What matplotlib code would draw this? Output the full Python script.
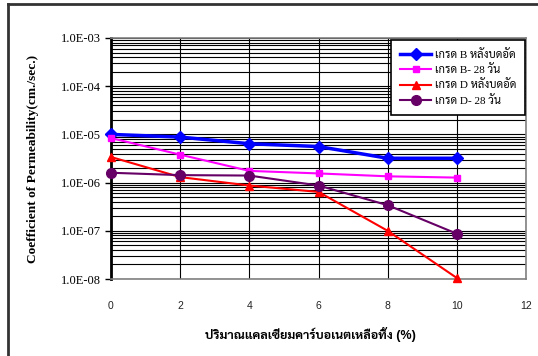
import matplotlib
matplotlib.use("Agg")
import matplotlib.pyplot as plt
from matplotlib.ticker import LogLocator, FixedLocator, NullFormatter
from matplotlib.lines import Line2D
import numpy as np

# ---- data ----
x_vals = [0, 2, 4, 6, 8, 10]
b_compacted = [1.0e-5, 8.8e-6, 6.4e-6, 5.6e-6, 3.2e-6, 3.2e-6]
b_28days = [8.4e-6, 3.8e-6, 1.75e-6, 1.55e-6, 1.35e-6, 1.27e-6]
d_compacted = [3.4e-6, 1.3e-6, 8.7e-7, 6.4e-7, 1.0e-7, 1.05e-8]
d_28days = [1.6e-6, 1.43e-6, 1.4e-6, 8.7e-7, 3.4e-7, 8.7e-8]
series_labels = ["เกรด B หลังบดอัด", "เกรด B- 28 วัน", "เกรด D หลังบดอัด", "เกรด D- 28 วัน"]
x_ticks = [0, 2, 4, 6, 8, 10, 12]
y_ticks = [1e-8, 1e-7, 1e-6, 1e-5, 1e-4, 1e-3]
y_tick_labels = ["1.0E-08", "1.0E-07", "1.0E-06", "1.0E-05", "1.0E-04", "1.0E-03"]
x_label = "ปริมาณแคลเซียมคาร์บอเนตเหลือทิ้ง (%)"
y_label = "Coefficient of Permeability(cm./sec.)"

serif_thai = ["Liberation Serif", "Sarabun", "DejaVu Sans"]
sans_thai = ["Liberation Sans", "Sarabun", "DejaVu Sans"]

fig = plt.figure(figsize=(5.38, 3.56), dpi=100)
ax = fig.add_axes([111/538, 1-279/356, (526-111)/538, (279-38)/356])

ax.set_yscale("log")
ax.set_xlim(0, 12)
ax.set_ylim(1e-8, 1e-3)

# grid
ax.yaxis.set_major_locator(FixedLocator(y_ticks))
ax.yaxis.set_minor_locator(LogLocator(base=10, subs=np.arange(2, 10)))
ax.yaxis.set_minor_formatter(NullFormatter())
ax.set_yticklabels(y_tick_labels, family=serif_thai, fontsize=9)
ax.xaxis.set_major_locator(FixedLocator(x_ticks))
ax.set_xticklabels([str(v) for v in x_ticks], family=sans_thai, fontsize=7.5, color="#222222")
ax.grid(True, which="both", axis="y", color="black", lw=0.8)
ax.grid(True, which="major", axis="x", color="black", lw=0.8)
ax.set_axisbelow(True)

ax.tick_params(axis="x", length=0, pad=16)
ax.tick_params(axis="y", which="major", length=4, width=1, direction="out", pad=3)
ax.tick_params(axis="y", which="minor", length=0)

for s in ["top", "right", "bottom"]:
    ax.spines[s].set_color("#808080")
    ax.spines[s].set_linewidth(1.2)
ax.spines["left"].set_color("black")
ax.spines["left"].set_linewidth(2)

ax.plot(x_vals, b_compacted, color="#0000FF", lw=2.5, marker="D", ms=6, label=series_labels[0], clip_on=False, zorder=5)
ax.plot(x_vals, b_28days, color="#FF00FF", lw=1.5, marker="s", ms=4.5, label=series_labels[1], clip_on=False, zorder=5)
ax.plot(x_vals, d_compacted, color="#FF0000", lw=1.5, marker="^", ms=6, label=series_labels[2], clip_on=False, zorder=5)
ax.plot(x_vals, d_28days, color="#660066", lw=1.5, marker="o", ms=7, label=series_labels[3], clip_on=False, zorder=5)

leg = ax.legend(loc="upper right", bbox_to_anchor=(525/538, 1-40/356), bbox_transform=fig.transFigure,
                prop={"family": serif_thai, "size": 8}, fancybox=False, framealpha=1,
                edgecolor="black", handlelength=2.8, handletextpad=0.3, borderpad=0.8,
                labelspacing=0.4, borderaxespad=0)
leg.get_frame().set_linewidth(1.2)

ax.set_xlabel(x_label, family=sans_thai, fontsize=9, fontweight="bold")
ax.xaxis.set_label_coords((310-111)/415, -(335-279)/241, transform=ax.transAxes)
ax.xaxis.label.set_va("center")
ax.set_ylabel(y_label, family=serif_thai, fontsize=9.6, fontweight="bold")
ax.yaxis.set_label_coords(-(111-33)/415, 0.5, transform=ax.transAxes)
ax.yaxis.label.set_va("center")

# outer frame lines (left and top)
fig.add_artist(Line2D([8/538, 8/538], [0, 1-4/356], transform=fig.transFigure, color="#333333", lw=2))
fig.add_artist(Line2D([8/538, 1], [1-4/356, 1-4/356], transform=fig.transFigure, color="#333333", lw=2))

fig.savefig("out.png", dpi=100)
